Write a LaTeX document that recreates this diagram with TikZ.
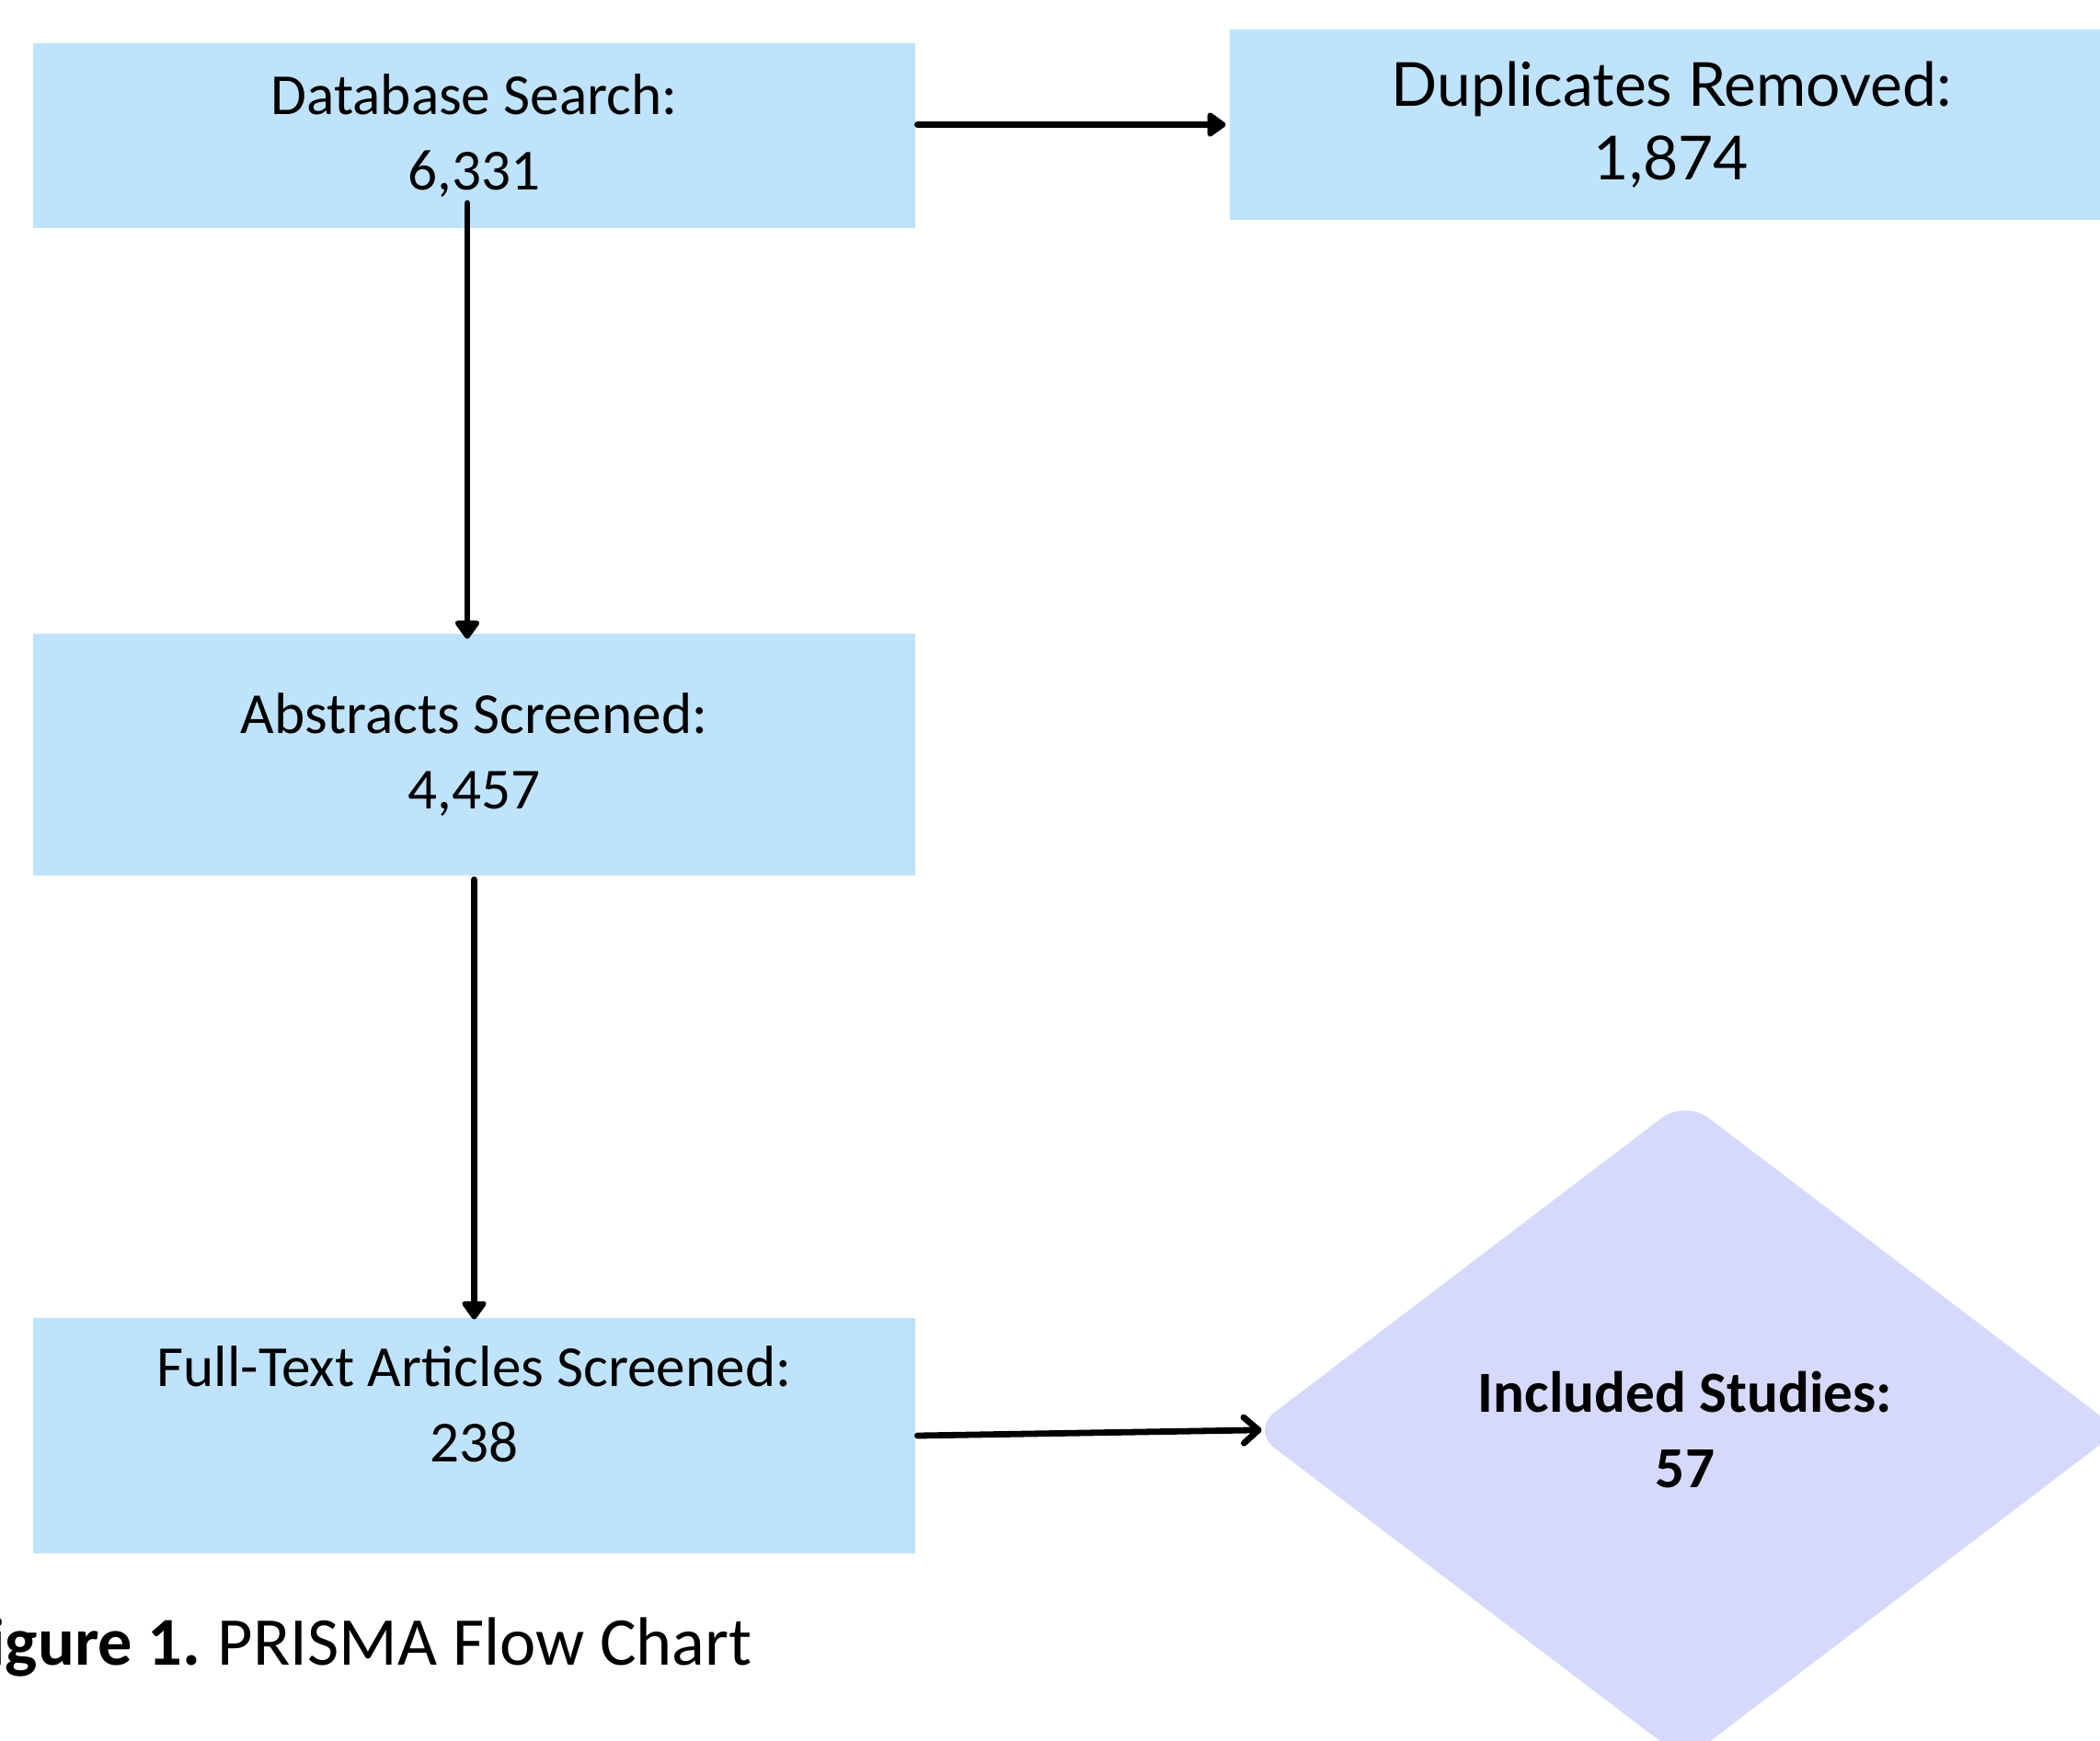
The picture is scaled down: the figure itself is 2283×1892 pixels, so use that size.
\documentclass[tikz,border=0pt]{standalone}
\usepackage{fontspec}
\setmainfont{Carlito}
\newfontfamily\dupfont{Lato}
\usetikzlibrary{shapes.geometric,arrows.meta}
\definecolor{boxblue}{RGB}{191,227,252}
\definecolor{dialav}{RGB}{214,217,251}
\begin{document}
\begin{tikzpicture}[x=0.5pt,y=-0.5pt,
  box/.style={rectangle,fill=boxblue,draw=none,inner sep=0pt,minimum width=479.5pt,
              align=center,font=\fontsize{31.6}{41}\selectfont},
  txt/.style={align=center,inner sep=0pt,font=\fontsize{31.6}{41}\selectfont},
  dup/.style={align=center,inner sep=0pt,font=\dupfont\fontsize{33}{40}\selectfont},
  fillarrow/.style={line width=3.4pt,line cap=round,-{Triangle[width=15pt,length=11pt,round]}},
  openarrow/.style={line width=3.4pt,line cap=round,-{Straight Barb[width=14pt,length=8pt,round]}}]
\useasboundingbox (0,0) rectangle (2283,1892);
\clip (0,0) rectangle (2283,1892);
% boxes
\node[box,minimum height=100.5pt] (b1) at (515.5,147.5) {Database Search:\\6,331};
\node[box,minimum width=480pt,minimum height=103.5pt,dup] (b2) at (1817,135.5) {Duplicates Removed:\\1,874};
\node[box,minimum height=131.5pt] (b3) at (515.5,820.5) {Abstracts Screened:\\4,457};
\node[box,minimum height=128pt] (b4) at (515.5,1561) {};
\node[txt] (b4t) at (515.5,1527) {Full-Text Articles Screened:\\238};
\node[diamond,fill=dialav,draw=none,rounded corners=16pt,inner sep=0pt,
      minimum width=472pt,minimum height=359pt,align=center,
      font=\bfseries\fontsize{31.6}{41}\selectfont] (dia) at (1832,1555) {Included Studies:\\57};
% caption
\node[anchor=base east,inner sep=0pt,font=\fontsize{37.2}{44}\selectfont] (cap) at (818,1810)
  {\textbf{Figure 1.}\hspace{-2pt} PRISMA Flow Chart};
% connectors
\coordinate (a2s) at (508,221);
\draw[fillarrow] ([xshift=1pt]b1.east |- b2.west) -- ([xshift=-2pt]b2.west);
\draw[fillarrow,shorten >=-3pt] (a2s) -- (a2s |- b3.north);
\draw[fillarrow,shorten >=-1pt] ([yshift=-2pt]b3.south) -- (b4.north);
\draw[openarrow,shorten >=-6pt] ([xshift=1pt]b4.east) -- (dia.west);
\end{tikzpicture}
\end{document}
